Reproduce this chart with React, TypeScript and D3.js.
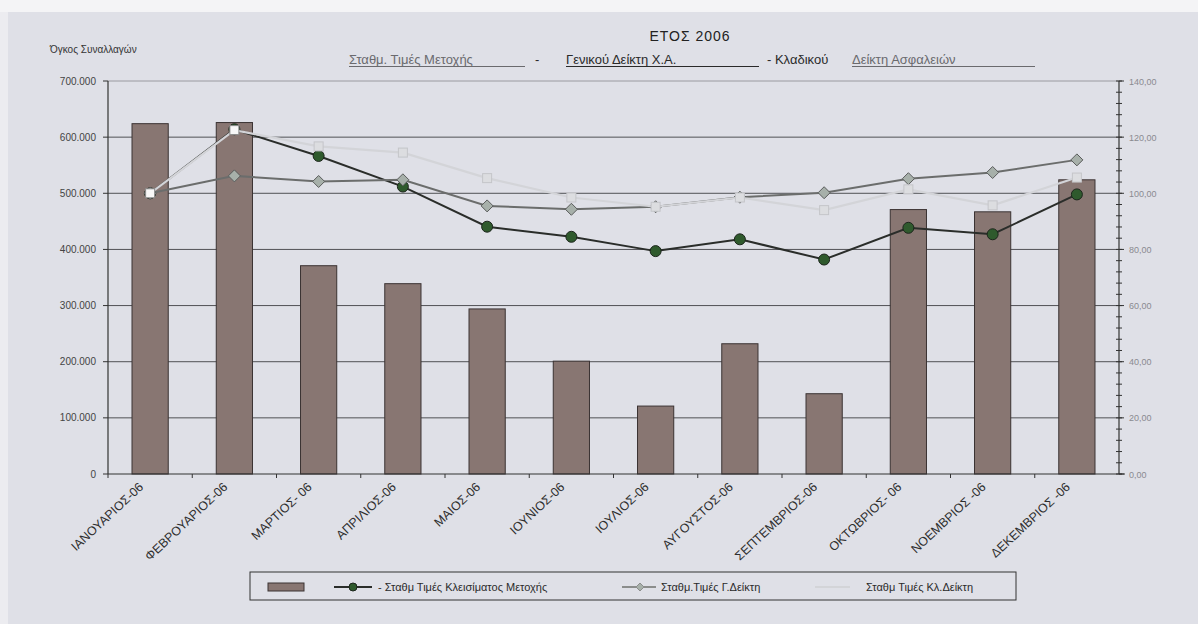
import React from 'react';
import * as d3 from 'd3';

const months = ['ΙΑΝΟΥΑΡΙΟΣ-06', 'ΦΕΒΡΟΥΑΡΙΟΣ-06', 'ΜΑΡΤΙΟΣ- 06', 'ΑΠΡΙΛΙΟΣ-06', 'ΜΑΙΟΣ-06', 'ΙΟΥΝΙΟΣ-06', 'ΙΟΥΛΙΟΣ-06', 'ΑΥΓΟΥΣΤΟΣ-06', 'ΣΕΠΤΕΜΒΡΙΟΣ-06', 'ΟΚΤΩΒΡΙΟΣ- 06', 'ΝΟΕΜΒΡΙΟΣ -06', 'ΔΕΚΕΜΒΡΙΟΣ -06'];
const volume = [624000, 626000, 371000, 339000, 294000, 201000, 121000, 232000, 143000, 471000, 467000, 524000];
const stockPrice = [100, 122.8, 113.3, 102.4, 88.1, 84.5, 79.4, 83.6, 76.4, 87.7, 85.4, 99.6];
const generalIndex = [100, 106.2, 104.2, 104.8, 95.5, 94.3, 95.2, 98.6, 100.2, 105.2, 107.4, 111.9];
const sectorIndex = [100, 122.5, 116.7, 114.5, 105.4, 98.5, 95.2, 98.5, 94, 101.4, 95.7, 105.6];
const leftTicks = [0, 100000, 200000, 300000, 400000, 500000, 600000, 700000];
const rightTicks = [0, 20, 40, 60, 80, 100, 120, 140];

const W = 1198, H = 624;
const m = { left: 108, right: 1119, top: 81, bottom: 474 };
const font = '"Liberation Sans", Arial, sans-serif';
const bg = '#dfe0e7';

const grLocale = d3.formatLocale({ decimal: ',', thousands: '.', grouping: [3], currency: ['', '€'] });
const fmtLeft = grLocale.format(',d');
const fmtRight = grLocale.format(',.2f');

export default function App() {
    const x = d3.scaleBand<string>().domain(months).range([m.left, m.right]).paddingInner(0.57).paddingOuter(0.285);
    const yL = d3.scaleLinear().domain([0, 700000]).range([m.bottom, m.top]);
    const yR = d3.scaleLinear().domain([0, 140]).range([m.bottom, m.top]);
    const cx = (i: number) => (x(months[i]) as number) + x.bandwidth() / 2;
    const line = d3.line<number>().x((_, i) => cx(i)).y(d => yR(d));
    const step = x.step();
    const minor = d3.range(0, 141, 4);

    const diamond = (px: number, py: number, r = 6) => `M${px},${py - r}L${px + r},${py}L${px},${py + r}L${px - r},${py}Z`;

    return (
        <svg width={W} height={H} style={{ position: 'absolute', left: 0, top: 0, display: 'block' }} fontFamily={font}>
            <rect x={0} y={0} width={W} height={H} fill={bg} />
            <rect x={0} y={0} width={W} height={12} fill="#f4f4f6" />
            <rect x={0} y={12} width={8} height={H - 12} fill="#ececf0" />

            {/* titles */}
            <text x={690} y={41} textAnchor="middle" fontSize={14} fill="#222" letterSpacing={1}>ΕΤΟΣ 2006</text>
            <g fontSize={13} fill="#2a2a2a">
                <text x={349} y={64} fill="#6a6a6e">Σταθμ. Τιμές Μετοχής</text>
                <line x1={349} x2={525} y1={66.5} y2={66.5} stroke="#6a6a6e" strokeWidth={1.2} />
                <text x={535} y={64}>-</text>
                <text x={566} y={64}>Γενικού Δείκτη Χ.Α.</text>
                <line x1={566} x2={759} y1={66.5} y2={66.5} stroke="#2a2a2a" strokeWidth={1.2} />
                <text x={767} y={64}>- Κλαδικού</text>
                <text x={852} y={64} fill="#6a6a6e">Δείκτη Ασφαλειών</text>
                <line x1={852} x2={1035} y1={66.5} y2={66.5} stroke="#6a6a6e" strokeWidth={1.2} />
            </g>
            <text x={50} y={53} fontSize={10} fill="#333">Όγκος Συναλλαγών</text>

            {/* grid */}
            {leftTicks.filter(t => t > 0).map(t => (
                <line key={t} x1={m.left} x2={m.right} y1={yL(t)} y2={yL(t)} stroke={t === 700000 ? '#9a9aa0' : '#505155'} strokeWidth={1} />
            ))}

            {/* bars */}
            {volume.map((v, i) => (
                <rect key={i} x={x(months[i])} y={yL(v)} width={x.bandwidth()} height={yL(0) - yL(v)}
                    fill="#887672" stroke="#3b3333" strokeWidth={1} />
            ))}

            {/* left axis */}
            <line x1={m.left} x2={m.left} y1={m.top} y2={m.bottom} stroke="#333" strokeWidth={1.2} />
            {leftTicks.map(t => (
                <g key={t}>
                    <line x1={m.left - 5} x2={m.left} y1={yL(t)} y2={yL(t)} stroke="#333" />
                    <text x={m.left - 12} y={yL(t) + 3.5} textAnchor="end" fontSize={10} fill="#444">{fmtLeft(t)}</text>
                </g>
            ))}

            {/* right axis */}
            <line x1={m.right} x2={m.right} y1={m.top} y2={m.bottom} stroke="#333" strokeWidth={1.2} />
            {minor.map(t => (
                <line key={t} x1={m.right - 3} x2={m.right + 3} y1={yR(t)} y2={yR(t)} stroke="#333" />
            ))}
            {rightTicks.map(t => (
                <g key={t}>
                    <line x1={m.right} x2={m.right + 5} y1={yR(t)} y2={yR(t)} stroke="#333" />
                    <text x={m.right + 10} y={yR(t) + 3.5} fontSize={9} fill="#8a8a90">{fmtRight(t)}</text>
                </g>
            ))}

            {/* x axis */}
            <line x1={m.left} x2={m.right + 6} y1={m.bottom} y2={m.bottom} stroke="#333" strokeWidth={1.2} />
            {months.map(mo => (
                <line key={mo} x1={(x(mo) as number) - step * 0.285} x2={(x(mo) as number) - step * 0.285}
                    y1={m.bottom} y2={m.bottom + 4} stroke="#333" />
            ))}
            {months.map((mo, i) => (
                <text key={mo} transform={`translate(${cx(i) - 6},${m.bottom + 14}) rotate(-43)`} textAnchor="end"
                    fontSize={12.5} fill="#2e2e2e">{mo}</text>
            ))}

            {/* stock line */}
            <path d={line(stockPrice) || ''} fill="none" stroke="#2a2d2a" strokeWidth={2} />
            {stockPrice.map((v, i) => (
                <circle key={i} cx={cx(i)} cy={yR(v)} r={5.5} fill="#2f5a2d" stroke="#1c251c" strokeWidth={1} />
            ))}

            {/* general index */}
            <path d={line(generalIndex) || ''} fill="none" stroke="#6b6d6c" strokeWidth={2} />
            {generalIndex.map((v, i) => (
                <path key={i} d={diamond(cx(i), yR(v))} fill="#a7b0aa" stroke="#5a5c5c" strokeWidth={1} />
            ))}

            {/* sector index */}
            <path d={line(sectorIndex) || ''} fill="none" stroke="#d3d4d8" strokeWidth={2.2} />
            {sectorIndex.map((v, i) => (
                <rect key={i} x={cx(i) - 4.5} y={yR(v) - 4.5} width={9} height={9}
                    fill={i < 2 ? '#f8f8f8' : '#dcdde0'} stroke={i < 2 ? '#8a8a8a' : '#c4c5c9'} strokeWidth={1} />
            ))}

            {/* legend */}
            <rect x={250} y={572} width={766} height={28} fill={bg} stroke="#333" strokeWidth={1} />
            <rect x={268} y={583} width={36} height={8} fill="#887672" stroke="#3b3333" />
            <line x1={334} x2={372} y1={587} y2={587} stroke="#2a2d2a" strokeWidth={2} />
            <circle cx={353} cy={587} r={4} fill="#2f5a2d" stroke="#1c251c" />
            <text x={378} y={591} fontSize={11} fill="#2b2b2b">- Σταθμ Τιμές Κλεισίματος Μετοχής</text>
            <line x1={622} x2={656} y1={587} y2={587} stroke="#8b8d8c" strokeWidth={2} />
            <path d={diamond(640, 587, 4)} fill="#a7b0aa" stroke="#8b8d8c" />
            <text x={661} y={591} fontSize={11} fill="#2b2b2b">Σταθμ.Τιμές Γ.Δείκτη</text>
            <line x1={815} x2={850} y1={587} y2={587} stroke="#d3d4d8" strokeWidth={2} />
            <text x={866} y={591} fontSize={11} fill="#2b2b2b">Σταθμ Τιμές Κλ.Δείκτη</text>
        </svg>
    );
}
